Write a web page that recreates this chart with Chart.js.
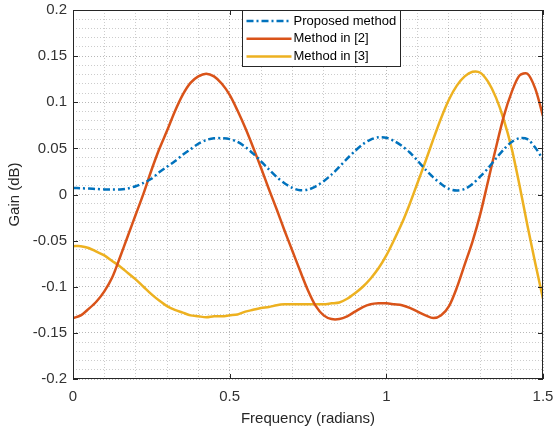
<!DOCTYPE html>
<html>
<head>
<meta charset="utf-8">
<script src="https://cdn.jsdelivr.net/npm/chart.js@4/dist/chart.umd.min.js"></script>
<style>
  html, body { margin: 0; padding: 0; background: #fff; }
  canvas { display: block; }
</style>
</head>
<body>
<canvas id="gainChart" width="554" height="429"></canvas>
<script>
// frequency samples (radians)
var freq = [0, 0.025, 0.05, 0.075, 0.1, 0.125, 0.15, 0.175, 0.2, 0.225,
            0.25, 0.275, 0.3, 0.325, 0.35, 0.375, 0.4, 0.425, 0.45, 0.475,
            0.5, 0.525, 0.55, 0.575, 0.6, 0.625, 0.65, 0.675, 0.7, 0.725,
            0.75, 0.775, 0.8, 0.825, 0.85, 0.875, 0.9, 0.925, 0.95, 0.975,
            1.0, 1.025, 1.05, 1.075, 1.1, 1.125, 1.15, 1.175, 1.2, 1.225,
            1.25, 1.275, 1.3, 1.325, 1.35, 1.375, 1.4, 1.425, 1.45, 1.475, 1.5];

// gain (dB)
var proposed = [0.007, 0.0068, 0.0064, 0.006, 0.0055, 0.0054, 0.0055, 0.0065, 0.009, 0.0125,
                0.017, 0.024, 0.030, 0.036, 0.043, 0.049, 0.055, 0.059, 0.061, 0.061,
                0.060, 0.057, 0.0515, 0.0443, 0.036, 0.0273, 0.019, 0.0122, 0.0072, 0.0046,
                0.0053, 0.0089, 0.0144, 0.0216, 0.0299, 0.0389, 0.0472, 0.0544, 0.0595, 0.062,
                0.0615, 0.058, 0.0525, 0.0455, 0.0365, 0.027, 0.0186, 0.0114, 0.006, 0.0043,
                0.006, 0.0114, 0.0196, 0.0286, 0.039, 0.049, 0.057, 0.061, 0.060, 0.051, 0.038];
var method2 = [-0.134, -0.131, -0.124, -0.116, -0.105, -0.090, -0.068, -0.045, -0.022, 0.001,
               0.026, 0.049, 0.069, 0.090, 0.108, 0.121, 0.128, 0.131, 0.128, 0.120,
               0.108, 0.091, 0.072, 0.051, 0.029, 0.006, -0.016, -0.039, -0.061, -0.083,
               -0.104, -0.121, -0.131, -0.135, -0.135, -0.132, -0.127, -0.122, -0.119, -0.118,
               -0.118, -0.119, -0.120, -0.123, -0.127, -0.131, -0.134, -0.131, -0.121, -0.101,
               -0.076, -0.051, -0.021, 0.015, 0.051, 0.085, 0.111, 0.129, 0.131, 0.115, 0.085];
var method3 = [-0.056, -0.056, -0.058, -0.062, -0.066, -0.072, -0.078, -0.085, -0.092, -0.100,
               -0.108, -0.115, -0.121, -0.125, -0.128, -0.131, -0.132, -0.133, -0.132, -0.132,
               -0.131, -0.130, -0.127, -0.125, -0.123, -0.122, -0.120, -0.119, -0.119, -0.119,
               -0.119, -0.119, -0.119, -0.118, -0.117, -0.113, -0.107, -0.100, -0.091, -0.080,
               -0.066, -0.049, -0.031, -0.010, 0.013, 0.036, 0.060, 0.083, 0.103, 0.118,
               0.128, 0.133, 0.132, 0.122, 0.105, 0.081, 0.050, 0.010, -0.033, -0.074, -0.113];

var labels = ['Proposed method', 'Method in [2]', 'Method in [3]'];
var xTicks = [0, 0.5, 1, 1.5];
var yTicks = [-0.2, -0.15, -0.1, -0.05, 0, 0.05, 0.1, 0.15, 0.2];

function pts(ys) {
    return freq.map(function (f, i) { return { x: f, y: ys[i] }; });
}
function isMajor(v, step) {
    var r = v / step;
    return Math.abs(r - Math.round(r)) < 1e-6;
}
function fmt(v) {
    return String(parseFloat(v.toFixed(2)));
}

var axisColor = '#262626';
var font = 'Arial, "Liberation Sans", Helvetica, sans-serif';

// box, inward ticks and legend, MATLAB style
var matlabBox = {
    id: 'matlabBox',
    afterDatasetsDraw: function (chart) {
        var ctx = chart.ctx, a = chart.chartArea;
        var xs = chart.scales.x, ys = chart.scales.y;
        ctx.save();
        ctx.strokeStyle = axisColor;
        ctx.lineWidth = 1;
        ctx.beginPath();
        xTicks.forEach(function (t) {
            var px = Math.round(xs.getPixelForValue(t)) + 0.5;
            ctx.moveTo(px, a.bottom); ctx.lineTo(px, a.bottom - 5);
            ctx.moveTo(px, a.top); ctx.lineTo(px, a.top + 5);
        });
        yTicks.forEach(function (t) {
            var py = Math.round(ys.getPixelForValue(t)) + 0.5;
            ctx.moveTo(a.left, py); ctx.lineTo(a.left + 5, py);
            ctx.moveTo(a.right, py); ctx.lineTo(a.right - 5, py);
        });
        ctx.stroke();
        ctx.strokeRect(Math.round(a.left) + 0.5, Math.round(a.top) + 0.5,
                       Math.round(a.right - a.left) - 1, Math.round(a.bottom - a.top) - 1);

        // legend
        var lx = 242.5, ly = Math.round(a.top) + 0.5, lw = 158, lh = 56;
        ctx.fillStyle = '#fff';
        ctx.fillRect(lx, ly, lw, lh);
        ctx.strokeStyle = axisColor;
        ctx.strokeRect(lx, ly, lw, lh);
        ctx.font = '13px ' + font;
        ctx.textBaseline = 'middle';
        chart.data.datasets.forEach(function (ds, i) {
            var y = ly + 10.5 + i * 17.8;
            ctx.strokeStyle = ds.borderColor;
            ctx.lineWidth = ds.borderWidth;
            ctx.setLineDash(ds.borderDash || []);
            ctx.beginPath();
            ctx.moveTo(lx + 4, y); ctx.lineTo(lx + 49, y);
            ctx.stroke();
            ctx.setLineDash([]);
            ctx.fillStyle = '#000';
            ctx.fillText(ds.label, lx + 51, y);
        });
        ctx.restore();
    }
};

new Chart('gainChart', {
    type: 'line',
    data: {
        datasets: [{
            label: labels[0],
            data: pts(proposed),
            borderColor: '#0072BD',
            borderWidth: 2.5,
            borderDash: [7, 3, 2, 3]
        }, {
            label: labels[1],
            data: pts(method2),
            borderColor: '#D95319',
            borderWidth: 2.5
        }, {
            label: labels[2],
            data: pts(method3),
            borderColor: '#EDB120',
            borderWidth: 2.5
        }]
    },
    options: {
        responsive: false,
        devicePixelRatio: 1,
        animation: false,
        events: [],
        layout: { padding: { top: 10, right: 11, left: 0, bottom: 0 } },
        elements: {
            point: { radius: 0 },
            line: { tension: 0.3, fill: false }
        },
        plugins: {
            legend: { display: false },
            tooltip: { enabled: false }
        },
        scales: {
            x: {
                type: 'linear',
                min: 0,
                max: 1.5,
                afterFit: function (s) { s.height = 50; s.paddingLeft = 0; s.paddingRight = 0; },
                ticks: {
                    stepSize: 0.1,
                    autoSkip: false,
                    maxRotation: 0,
                    padding: 9,
                    color: '#333',
                    font: { family: font, size: 15 },
                    callback: function (v) { return isMajor(v, 0.5) ? fmt(v) : ''; }
                },
                grid: {
                    drawTicks: false,
                    lineWidth: 1,
                    color: function (c) {
                        return isMajor(c.tick.value, 0.5) ? 'rgba(0,0,0,0.28)' : 'rgba(0,0,0,0.2)';
                    }
                },
                border: { display: false, dash: [1, 2] },
                title: {
                    display: true,
                    text: 'Frequency (radians)',
                    color: '#262626',
                    font: { family: font, size: 15 },
                    padding: { top: 2, bottom: 1 }
                }
            },
            y: {
                min: -0.2,
                max: 0.2,
                afterFit: function (s) { s.width = 73; s.paddingTop = 0; s.paddingBottom = 0; },
                ticks: {
                    stepSize: 0.01,
                    autoSkip: false,
                    padding: 6,
                    color: '#333',
                    font: { family: font, size: 15 },
                    callback: function (v) { return isMajor(v, 0.05) ? fmt(v) : ''; }
                },
                grid: {
                    drawTicks: false,
                    lineWidth: 1,
                    color: function (c) {
                        return isMajor(c.tick.value, 0.05) ? 'rgba(0,0,0,0.28)' : 'rgba(0,0,0,0.2)';
                    }
                },
                border: { display: false, dash: [1, 2] },
                title: {
                    display: true,
                    text: 'Gain (dB)',
                    color: '#262626',
                    font: { family: font, size: 15 },
                    padding: { top: 6, bottom: 8 }
                }
            }
        }
    },
    plugins: [matlabBox]
});
</script>
</body>
</html>
